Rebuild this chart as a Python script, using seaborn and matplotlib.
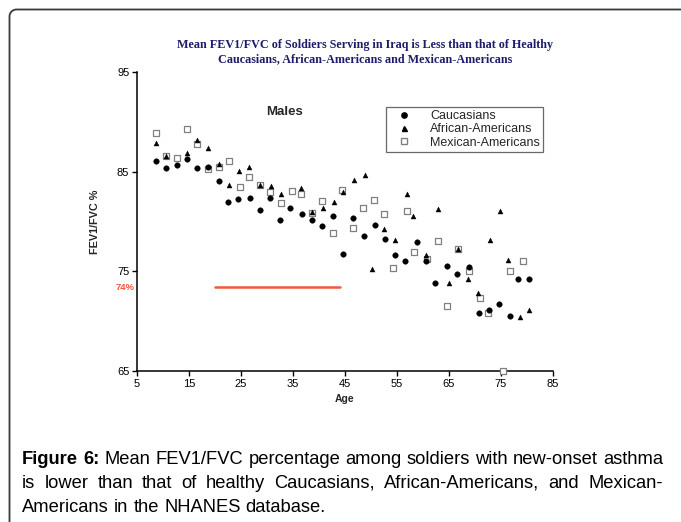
import matplotlib
matplotlib.use("Agg")
import matplotlib.pyplot as plt
import seaborn as sns
import pandas as pd
import numpy as np
from matplotlib.lines import Line2D

# ---------------- data ----------------
cau_age = [8.7, 10.6, 12.7, 14.6, 16.6, 18.7, 20.7, 22.5, 24.4, 26.8, 28.7, 30.5, 32.5, 34.5,
           36.7, 38.6, 40.5, 42.6, 44.6, 46.6, 48.6, 50.8, 52.7, 54.6, 56.5, 58.8, 60.5, 62.4,
           64.7, 66.6, 68.9, 70.7, 72.7, 74.7, 76.8, 78.2, 80.3]
cau_val = [86.1, 85.4, 85.7, 86.3, 85.4, 85.5, 84.1, 82.0, 82.3, 82.4, 81.2, 82.4, 80.2, 81.4,
           80.8, 80.2, 79.5, 80.6, 76.7, 80.4, 78.5, 79.6, 78.2, 76.6, 76.0, 77.9, 76.0, 73.8,
           75.5, 74.7, 75.4, 70.8, 71.1, 71.7, 70.5, 74.2, 74.2]

afr_age = [8.7, 10.6, 14.6, 16.6, 18.7, 20.7, 22.6, 24.6, 26.6, 28.7, 30.7, 32.6, 36.6, 38.6,
           40.8, 42.9, 44.7, 46.8, 48.8, 50.1, 52.5, 54.7, 56.9, 58.1, 60.6, 62.8, 65.0, 66.7,
           68.6, 70.5, 72.9, 74.8, 76.3, 78.7, 80.3]
afr_val = [87.9, 86.6, 86.9, 88.2, 87.4, 85.8, 83.7, 85.1, 85.5, 83.7, 83.6, 82.8, 83.4, 81.0,
           81.4, 82.0, 83.0, 84.2, 84.7, 75.2, 79.2, 78.1, 82.8, 80.6, 76.6, 81.3, 73.8, 77.2,
           74.2, 72.8, 78.1, 81.1, 76.1, 70.4, 71.1]

mex_age = [8.7, 10.6, 12.7, 14.7, 16.6, 18.6, 20.7, 22.6, 24.8, 26.6, 28.7, 30.5, 32.7, 34.8,
           36.6, 38.7, 40.5, 42.6, 44.4, 46.6, 48.5, 50.6, 52.5, 54.3, 57.0, 58.3, 60.8, 62.8,
           64.7, 66.7, 68.8, 71.0, 72.5, 75.3, 76.8, 79.2]
mex_val = [88.9, 86.6, 86.4, 89.3, 87.8, 85.3, 85.5, 86.1, 83.5, 84.5, 83.7, 83.0, 81.9, 83.1,
           82.8, 80.9, 82.1, 78.8, 83.2, 79.3, 81.4, 82.2, 80.8, 75.3, 81.1, 76.9, 76.2, 78.0,
           71.5, 77.2, 75.0, 72.3, 70.8, 65.0, 75.0, 76.0]

series_names = ["Caucasians", "African-Americans", "Mexican-Americans"]
soldier_age = [20, 44]
soldier_val = [73.4, 73.4]
soldier_label = "74%"

x_ticks = [5, 15, 25, 35, 45, 55, 65, 75, 85]
y_ticks = [65, 75, 85, 95]

title_text = ("Mean FEV1/FVC of Soldiers Serving in Iraq is Less than that of Healthy\n"
              "Caucasians, African-Americans and Mexican-Americans")
caption_lines = [
    [("Figure", "bold"), ("6:", "bold"), ("Mean", "normal"), ("FEV1/FVC", "normal"),
     ("percentage", "normal"), ("among", "normal"), ("soldiers", "normal"), ("with", "normal"),
     ("new-onset", "normal"), ("asthma", "normal")],
    [(w, "normal") for w in "is lower than that of healthy Caucasians, African-Americans, and Mexican-".split()],
    [(w, "normal") for w in "Americans in the NHANES database.".split()],
]

# ---------------- style ----------------
sns.set_theme(style="white")
plt.rcParams["font.family"] = ["Liberation Sans", "DejaVu Sans"]

W, H = 681, 522
fig = plt.figure(figsize=(W / 100, H / 100), dpi=100)

# rounded frame: left and top edges of a box that runs off the image (figure fractions)
fx, fy, rad = 9.5, 9.5, 7.0
theta = np.linspace(np.pi, np.pi / 2, 20)
arc_x = fx + rad + rad * np.cos(theta)
arc_y = fy + rad - rad * np.sin(theta)
px = np.concatenate([[fx], arc_x, [W + 2]])
py = np.concatenate([[H + 2], arc_y, [fy]])
fig.add_artist(Line2D(px / W, 1 - py / H, transform=fig.transFigure,
                      color="#3a3a3a", linewidth=1.3, solid_capstyle="butt"))

ax = fig.add_axes([137 / W, 1 - 371 / H, (553 - 137) / W, (371 - 72) / H])

df_c = pd.DataFrame({"Age": cau_age, "val": cau_val})
df_a = pd.DataFrame({"Age": afr_age, "val": afr_val})
df_m = pd.DataFrame({"Age": mex_age, "val": mex_val})

sns.scatterplot(data=df_m, x="Age", y="val", marker="s", s=17, facecolor="white",
                edgecolor="#808080", linewidth=0.9, ax=ax, zorder=3)
sns.scatterplot(data=df_a, x="Age", y="val", marker="^", s=13, color="black",
                edgecolor="black", linewidth=0.3, ax=ax, zorder=4)
sns.scatterplot(data=df_c, x="Age", y="val", marker="o", s=16, color="black",
                edgecolor="black", linewidth=0.3, ax=ax, zorder=5)
for coll in ax.collections:
    coll.set_clip_on(False)

sns.lineplot(x=soldier_age, y=soldier_val, color="#f0583a", linewidth=1.8, ax=ax)

ax.set_xlim(5, 85)
ax.set_ylim(65, 95)
ax.set_xticks(x_ticks)
ax.set_yticks(y_ticks)
ax.tick_params(axis="both", direction="out", length=3.5, width=1, labelsize=8,
               colors="black", pad=2, bottom=True, left=True)
for sp in ["top", "right"]:
    ax.spines[sp].set_visible(False)
for sp in ["left", "bottom"]:
    ax.spines[sp].set_color("black")
    ax.spines[sp].set_linewidth(1.1)

ax.set_xlabel("Age", fontsize=7.5, fontweight="bold", labelpad=4)
ax.set_ylabel("FEV1/FVC %", fontsize=7.8, fontweight="bold", labelpad=12)

ax.text(-0.006, soldier_val[0], soldier_label, transform=ax.get_yaxis_transform(),
        ha="right", va="center", color="#f0583a", fontsize=6.8, fontweight="bold")
ax.text(33.3, 91.0, "Males", fontsize=9.5, fontweight="bold", ha="center", va="center")

handles = [
    Line2D([], [], linestyle="none", marker="o", markersize=3.8, color="black"),
    Line2D([], [], linestyle="none", marker="^", markersize=3.6, color="black"),
    Line2D([], [], linestyle="none", marker="s", markersize=4.0, markerfacecolor="white",
           markeredgecolor="#808080"),
]
leg = ax.legend(handles, series_names, loc="upper left",
                bbox_to_anchor=((386 - 137) / (553 - 137), (371 - 107) / (371 - 72)),
                fontsize=9, frameon=True, fancybox=False, edgecolor="#444444",
                borderpad=0.25, labelspacing=0.1, handletextpad=1.0, handlelength=2.3,
                borderaxespad=0)
leg.get_frame().set_linewidth(0.9)

fig.text(365 / W, 1 - 52 / H, title_text, ha="center", va="center",
         family=["Liberation Serif", "DejaVu Serif"], fontweight="bold", fontsize=8.7,
         color="#1c1c6b", linespacing=1.15)

# ---------------- justified caption ----------------
fig.canvas.draw()
r = fig.canvas.get_renderer()
cap_size = 13.2
left_px, right_px = 22, 663
baselines = [464, 488, 512]


def wwidth(word, weight):
    t = fig.text(0, 0, word, fontsize=cap_size, fontweight=weight)
    bb = t.get_window_extent(r)
    t.remove()
    return bb.width


space_w = wwidth("a b", "normal") - wwidth("ab", "normal")
for li, words in enumerate(caption_lines):
    widths = [wwidth(w, wt) for w, wt in words]
    if li < len(caption_lines) - 1:
        gap = (right_px - left_px - sum(widths)) / (len(words) - 1)
    else:
        gap = space_w
    x = left_px
    for (w, wt), wd in zip(words, widths):
        fig.text(x / W, 1 - baselines[li] / H, w, fontsize=cap_size, fontweight=wt,
                 ha="left", va="baseline", color="black")
        x += wd + gap

fig.savefig("out.png", dpi=100)
